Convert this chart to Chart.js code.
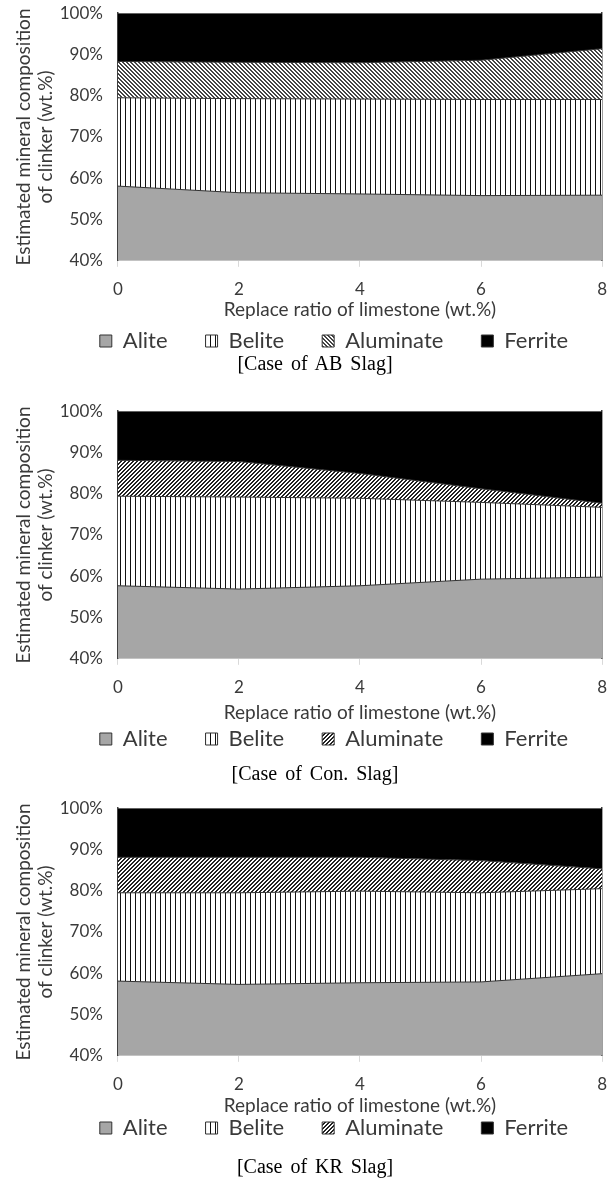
<!DOCTYPE html>
<html><head><meta charset="utf-8">
<script src="https://cdn.jsdelivr.net/npm/chart.js@4.4.1/dist/chart.umd.min.js"></script>
<style>
html,body{margin:0;padding:0;background:#fff}
body{width:616px;height:1184px;position:relative;overflow:hidden}
.wrap{position:absolute;left:0;width:620px}
.cap{position:absolute;left:7px;width:616px;text-align:center;font-family:"Liberation Serif","Times New Roman",serif;font-size:20px;word-spacing:3px;color:#000;line-height:24px}
</style></head><body>
<div class="wrap" id="w1"><canvas id="c1"></canvas></div>
<div class="wrap" id="w2"><canvas id="c2"></canvas></div>
<div class="wrap" id="w3"><canvas id="c3"></canvas></div>
<div class="cap" id="cap1">[Case of AB Slag]</div>
<div class="cap" id="cap2">[Case of Con. Slag]</div>
<div class="cap" id="cap3">[Case of KR Slag]</div>
<script>
// ---- data ----
const ratios = ['0', '2', '4', '6', '8'];
const mineralNames = ['Alite', 'Belite', 'Aluminate', 'Ferrite'];

const abAlite     = [58.1, 56.5, 56.2, 55.8, 55.9];
const abBelite    = [21.4, 22.8, 23.0, 23.3, 23.2];
const abAluminate = [8.8, 8.8, 8.8, 9.5, 12.3];
const abFerrite   = [11.7, 11.9, 12.0, 11.4, 8.6];

const conAlite     = [57.7, 56.9, 57.7, 59.3, 59.8];
const conBelite    = [21.7, 22.3, 21.2, 18.6, 16.9];
const conAluminate = [8.7, 8.6, 6.0, 3.3, 1.0];
const conFerrite   = [11.9, 12.2, 15.1, 18.8, 22.3];

const krAlite     = [58.1, 57.3, 57.7, 57.9, 59.9];
const krBelite    = [21.4, 22.2, 22.2, 21.6, 20.6];
const krAluminate = [8.6, 8.6, 8.2, 7.8, 4.8];
const krFerrite   = [11.9, 11.9, 11.9, 12.7, 14.7];

const yMin = 40, yMax = 100, yStep = 10;
const yTitleLines = ['Estimated mineral composition', 'of clinker (wt.%)'];
const xTitle = 'Replace ratio of limestone (wt.%)';

// ---- patterns ----
function verticalPattern() {
  const c = document.createElement('canvas'); c.width = 5; c.height = 5;
  const g = c.getContext('2d');
  g.fillStyle = '#fff'; g.fillRect(0, 0, 5, 5);
  g.fillStyle = '#111'; g.fillRect(0, 0, 1, 5);
  return g.createPattern(c, 'repeat');
}
function diagPattern(dir, size, thick, color) {
  const c = document.createElement('canvas'); c.width = size; c.height = size;
  const g = c.getContext('2d');
  g.fillStyle = '#fff'; g.fillRect(0, 0, size, size);
  g.fillStyle = color;
  for (let i = 0; i < size; i++) {
    for (let t = 0; t < thick; t++) {
      const x = dir === 'down' ? (i + t) % size : (size - 1 - i + t + size) % size;
      g.fillRect(x, i, 1, 1);
    }
  }
  return g.createPattern(c, 'repeat');
}

const FONT = 'Lato, "Open Sans", sans-serif';
const TXT = '#3a3a3a';

function makeChart(id, wrapId, cfg, alite, belite, alum, ferr, alumPat) {
  const wrap = document.getElementById(wrapId);
  wrap.style.top = cfg.top + 'px';
  wrap.style.height = cfg.height + 'px';
  const shiftPlugin = {
    id: 'legendShift',
    afterLayout(chart) {
      const l = chart.legend;
      if (!l) return;
      l.left += cfg.legendDx; l.right += cfg.legendDx;
      l.top += cfg.legendDy; l.bottom += cfg.legendDy;
    }
  };
  const ds = (label, data, bg, fill) => ({
    label, data, backgroundColor: bg, borderColor: '#333', borderWidth: 1,
    fill, pointRadius: 0, pointHoverRadius: 0, tension: 0
  });
  return new Chart(document.getElementById(id), {
    type: 'line',
    data: {
      labels: ratios,
      datasets: [
        ds(mineralNames[0], alite, '#a6a6a6', 'start'),
        ds(mineralNames[1], belite, verticalPattern(), '-1'),
        ds(mineralNames[2], alum, alumPat, '-1'),
        ds(mineralNames[3], ferr, '#000', '-1')
      ]
    },
    options: {
      responsive: true, maintainAspectRatio: false, animation: false,
      layout: { padding: { top: 0, left: 13, right: 11, bottom: 0 } },
      plugins: {
        tooltip: { enabled: false },
        legend: {
          position: 'bottom',
          labels: {
            boxWidth: 12, boxHeight: 12, padding: 38, color: TXT,
            font: { family: FONT, size: 22 }
          }
        },
        title: { display: false }
      },
      scales: {
        x: {
          type: 'category', offset: false,
          grid: { drawOnChartArea: false, drawTicks: true, tickLength: 6, color: '#d9d9d9' },
          border: { color: '#d9d9d9', width: 1 },
          ticks: { color: TXT, padding: 13, font: { family: FONT, size: 17 }, maxRotation: 0 },
          title: { display: true, text: xTitle, color: TXT, font: { family: FONT, size: 19 },
                   padding: { top: cfg.xTitlePad, bottom: 0 } }
        },
        y: {
          stacked: true, min: yMin, max: yMax,
          grid: { drawOnChartArea: false, drawTicks: true, tickLength: 12, color: 'rgba(0,0,0,0)' },
          border: { color: '#404040', width: 1.5 },
          ticks: { stepSize: yStep, color: TXT, padding: 3, font: { family: FONT, size: 17 },
                   callback: v => v + '%' },
          title: { display: true, text: yTitleLines, color: TXT, font: { family: FONT, size: 19, lineHeight: 1.15 },
                   padding: { top: 0, bottom: 0 } }
        },
        yR: {
          position: 'right', min: yMin, max: yMax,
          grid: { drawOnChartArea: false, drawTicks: false },
          border: { color: '#404040', width: 1.5 },
          ticks: { display: false }
        }
      }
    },
    plugins: [shiftPlugin]
  });
}

const cfg1 = { top: 0,   height: 391, xTitlePad: -15, legendDx: 23, legendDy: -29 };
const cfg2 = { top: 398, height: 396, xTitlePad: -10, legendDx: 23, legendDy: -34 };
const cfg3 = { top: 795, height: 392, xTitlePad: -14, legendDx: 23, legendDy: -38 };

makeChart('c1', 'w1', cfg1, abAlite, abBelite, abAluminate, abFerrite, diagPattern('down', 4, 2, '#444'));
makeChart('c2', 'w2', cfg2, conAlite, conBelite, conAluminate, conFerrite, diagPattern('up', 4, 2, '#222'));
makeChart('c3', 'w3', cfg3, krAlite, krBelite, krAluminate, krFerrite, diagPattern('up', 4, 2, '#222'));

document.getElementById('cap1').style.top = (363 - 12) + 'px';
document.getElementById('cap2').style.top = (773 - 12) + 'px';
document.getElementById('cap3').style.top = (1166 - 12) + 'px';
</script>
</body></html>
